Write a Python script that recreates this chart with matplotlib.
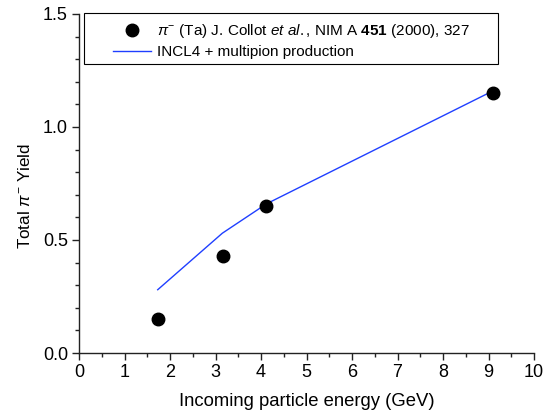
import matplotlib
matplotlib.use("Agg")
import matplotlib.pyplot as plt
from matplotlib.ticker import MultipleLocator
from matplotlib.patches import Rectangle

# data
energy_exp = [1.73, 3.16, 4.12, 9.1]
yield_exp = [0.15, 0.43, 0.65, 1.15]

energy_model = [1.73, 3.15, 4.12, 9.1]
yield_model = [0.28, 0.53, 0.66, 1.16]

x_ticks = list(range(0, 11))
y_ticks = [0.0, 0.5, 1.0, 1.5]

plt.rcParams['font.family'] = ['Liberation Sans', 'DejaVu Sans']
plt.rcParams['mathtext.fontset'] = 'custom'
plt.rcParams['mathtext.rm'] = 'Liberation Sans'
plt.rcParams['mathtext.it'] = 'Liberation Sans:italic'
plt.rcParams['mathtext.bf'] = 'Liberation Sans:bold'

W, H = 552, 417
fig = plt.figure(figsize=(W / 100, H / 100), dpi=100)
ax = fig.add_axes([79 / W, 1 - 353 / H, 455 / W, 339 / H])

ax.plot(energy_exp, yield_exp, 'o', color='black', ms=9, zorder=3,
        label=r'$\pi^{-}$ (Ta) J. Collot $\mathit{et\ al.}$, NIM A $\mathbf{451}$ (2000), 327')
ax.plot(energy_model, yield_model, '-', color='#1f3fff', lw=1,
        label='INCL4 + multipion production')

ax.set_xlim(0, 10)
ax.set_ylim(0, 1.5)
ax.set_xticks(x_ticks)
ax.set_yticks(y_ticks)
ax.set_yticklabels(['%.1f' % v for v in y_ticks])
ax.xaxis.set_minor_locator(MultipleLocator(0.5))
ax.yaxis.set_minor_locator(MultipleLocator(0.1))

for s in ['top', 'right']:
    ax.spines[s].set_visible(False)
for s in ['left', 'bottom']:
    ax.spines[s].set_linewidth(1.0)
    ax.spines[s].set_color('#222222')

ax.tick_params(which='major', direction='out', length=5, width=1, labelsize=13,
               colors='#222222', pad=3)
ax.tick_params(which='minor', direction='out', length=3, width=1, colors='#222222')
ax.tick_params(labelcolor='black')

ax.set_xlabel('Incoming particle energy (GeV)', fontsize=13.3, va='center')
ax.xaxis.set_label_coords(0.5, (353 - 402) / 339)
ax.set_ylabel(r'Total $\pi^{-}$ Yield', fontsize=12.3, va='center')
ax.yaxis.set_label_coords((25 - 79) / 455, (353 - 196) / 339)

# legend without its own frame, box drawn separately
leg = ax.legend(loc='upper left', bbox_to_anchor=((113 - 79) / 455, (353 - 22.5) / 339),
                fontsize=11, frameon=False, handlelength=2.5, handletextpad=0.4,
                borderpad=0, labelspacing=0.3, borderaxespad=0)
ax.add_patch(Rectangle(((84 - 79) / 455, (353 - 64) / 339), 414 / 455, 51 / 339,
                       transform=ax.transAxes, fill=False, edgecolor='black',
                       lw=0.8, clip_on=False, zorder=4))

fig.savefig('out.png', dpi=100)
